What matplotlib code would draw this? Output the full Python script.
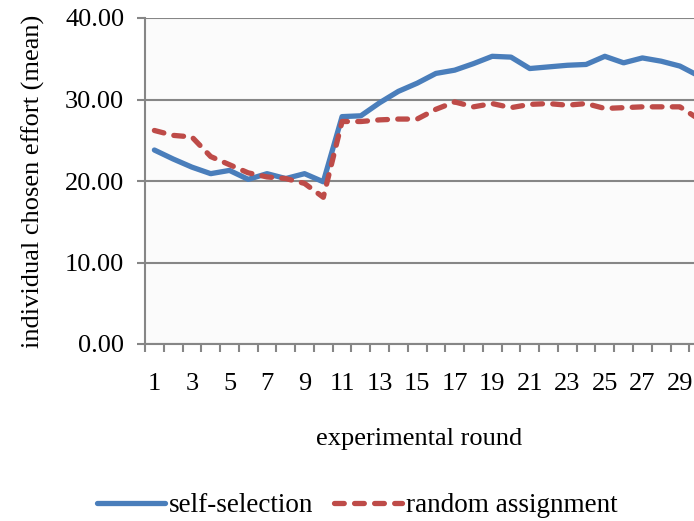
import matplotlib
matplotlib.use('Agg')
import matplotlib.pyplot as plt
import numpy as np

rounds = list(range(1, 31))
self_selection = [23.8, 22.7, 21.7, 20.9, 21.3, 20.2, 20.9, 20.3, 20.9, 19.9,
                  27.9, 28.0, 29.6, 31.0, 32.0, 33.2, 33.6, 34.4, 35.3, 35.2,
                  33.8, 34.0, 34.2, 34.3, 35.3, 34.5, 35.1, 34.7, 34.1, 32.9]
random_assignment = [26.2, 25.6, 25.4, 23.0, 22.0, 21.0, 20.5, 20.3, 19.7, 18.0,
                     27.3, 27.3, 27.5, 27.6, 27.6, 28.8, 29.7, 29.1, 29.5, 29.0,
                     29.4, 29.5, 29.3, 29.5, 28.9, 29.0, 29.1, 29.1, 29.1, 27.6]
tick_labels = [str(r) for r in rounds if r % 2 == 1]

plt.rcParams['font.family'] = ['Liberation Serif', 'DejaVu Serif']
fs = 19
grey = "#868686"

fig = plt.figure(figsize=(6.94, 5.21), dpi=100)
ax = fig.add_axes([145/694, 1-344/521, 1-145/694, (344-18)/521])
ax.set_facecolor("#fbfbfb")

ax.plot(rounds, self_selection, color="#4a7ebb", lw=3.8, solid_capstyle='round',
        label="self-selection", zorder=3)
ax.plot(rounds, random_assignment, color="#be4b48", lw=3.8, dashes=(1.85, 1.95),
        dash_capstyle='round', label="random assignment", zorder=3)

ax.set_xlim(0.5, 29.75)
ax.set_ylim(0, 40)
ax.set_yticks(np.arange(0, 41, 10))
ax.set_yticklabels(["%.2f" % v for v in np.arange(0, 41, 10)], fontsize=fs)
ax.set_xticks([r for r in rounds if r % 2 == 1])
ax.set_xticklabels(tick_labels, fontsize=fs)
ax.set_xticks(np.arange(0.5, 30.5, 1), minor=True)
ax.tick_params(axis='x', which='major', length=0, pad=21)
ax.tick_params(axis='x', which='minor', length=6, width=1.5, color=grey)
ax.tick_params(axis='y', length=6, width=1.5, color=grey, pad=9)

ax.grid(axis='y', color=grey, lw=1.5)
ax.set_axisbelow(True)
for side in ['top', 'right']:
    ax.spines[side].set_visible(False)
for side in ['left', 'bottom']:
    ax.spines[side].set_color(grey)
    ax.spines[side].set_linewidth(1.5)

ax.set_ylabel("individual chosen effort (mean)", fontsize=fs, labelpad=14)
ax.set_xlabel("experimental round", fontsize=fs, labelpad=24)

fig.legend(loc='center', bbox_to_anchor=(0.515, 1-506/521), ncol=2, frameon=False,
           fontsize=19.5, handlelength=2.5, handletextpad=0.15, columnspacing=0.75)

fig.savefig("out.png", dpi=100)
